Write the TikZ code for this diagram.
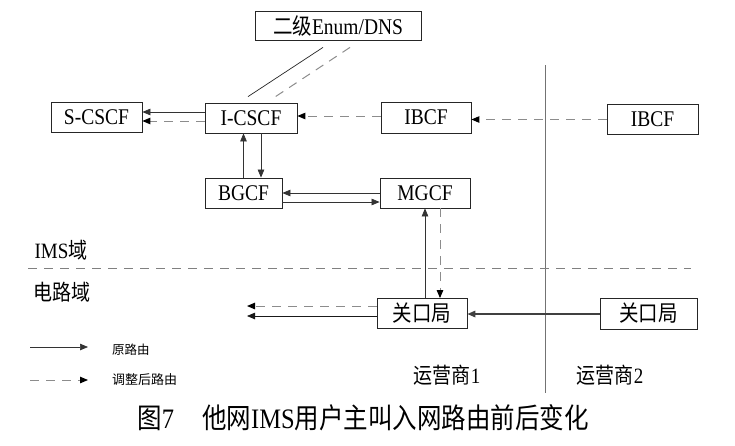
\documentclass[tikz,border=0pt]{standalone}
\usepackage{fontspec}
\usepackage{graphicx}
\setmainfont{Liberation Serif}
\newfontfamily\cjk{Noto Sans CJK SC}
\newcommand{\tall}[1]{\scalebox{1}[1.15]{#1}}
\usetikzlibrary{arrows.meta,calc}
\begin{document}
\begin{tikzpicture}[x=1pt,y=-1pt,
  box/.style={draw=black!85,line width=0.8pt,inner sep=0pt,font=\fontsize{19.5}{21}\selectfont},
  sol/.style={draw=black!80,line width=0.7pt,-{Triangle[length=8pt,width=6.5pt]}},
  das/.style={draw=black!45,line width=1pt,dash pattern=on 9pt off 7pt,-{Triangle[length=8pt,width=6.5pt,color=black]}},
  plain/.style={draw=black!85,line width=0.7pt},
  plaindash/.style={draw=black!45,line width=1pt,dash pattern=on 9pt off 7pt},
  lbl/.style={font=\fontsize{19}{21}\selectfont,inner sep=0pt},
  leg/.style={font=\fontsize{13}{15}\selectfont\cjk,inner sep=0pt,anchor=west}]
\useasboundingbox (0,0) rectangle (735,445);
\fill[white] (0,0) rectangle (735,445);

% boxes
\node[box,minimum width=166pt,minimum height=29pt] (enum) at (338,25.5) {\tall{{\cjk 二级}Enum/DNS}};
\node[box,minimum width=91pt,minimum height=30pt] (scscf) at (96.5,117) {\tall{S-CSCF}};
\node[box,minimum width=92pt,minimum height=30pt] (icscf) at (251,118) {\tall{I-CSCF}};
\node[box,minimum width=90pt,minimum height=31pt] (ibcfa) at (426,117.5) {\tall{IBCF}};
\node[box,minimum width=91pt,minimum height=30pt] (ibcfb) at (652.5,119) {\tall{IBCF}};
\node[box,minimum width=77pt,minimum height=30pt] (bgcf) at (243.5,193) {\tall{BGCF}};
\node[box,minimum width=90pt,minimum height=30pt] (mgcf) at (425,193) {\tall{MGCF}};
\node[box,minimum width=90pt,minimum height=30pt] (gwa) at (422,313.5) {\tall{\cjk 关口局}};
\node[box,minimum width=97pt,minimum height=31pt] (gwb) at (648.5,313.5) {\tall{\cjk 关口局}};

% domain separators
\coordinate (vtop) at (545,65);
\coordinate (vbot) at (545,393);
\draw[draw=black!55,line width=0.9pt] (vtop) -- (vbot);
\coordinate (hl) at (28,268);
\coordinate (hr) at (691,268);
\draw[plaindash,draw=black!50] (hl) -- (hr);

% Enum/DNS links
\draw[plain] ($(enum.south)+(-15,7)$) -- ($(icscf.north)+(-3,-6)$);
\draw[plaindash] ($(enum.south)+(12,7)$) -- ($(icscf.north)+(23,-5)$);

% I-CSCF -> S-CSCF
\draw[sol] ([yshift=6pt]icscf.west) -- ([yshift=6pt]icscf.west -| scscf.east);
\draw[das] ([yshift=-3pt]icscf.west) -- ([yshift=-3pt]icscf.west -| scscf.east);

% IBCF chain
\draw[das] ([yshift=1.5pt]ibcfa.west) -- ([yshift=1.5pt]ibcfa.west -| icscf.east);
\draw[das] ([yshift=-0.5pt]ibcfb.west) -- ([yshift=-0.5pt]ibcfb.west -| ibcfa.east);

% BGCF <-> I-CSCF
\draw[sol] (bgcf.north) -- (bgcf.north |- icscf.south);
\draw[sol] ([xshift=10pt]icscf.south) -- ([xshift=10pt]icscf.south |- bgcf.north);

% MGCF <-> BGCF
\draw[sol] (mgcf.west) -- (mgcf.west -| bgcf.east);
\draw[sol] ([yshift=-9pt]bgcf.east) -- ([yshift=-9pt]bgcf.east -| mgcf.west);

% gateway <-> MGCF
\draw[sol] ([xshift=3pt]gwa.north) -- ([xshift=3pt]gwa.north |- mgcf.south);
\draw[das] ([xshift=15pt]mgcf.south) -- ([xshift=15pt]mgcf.south |- gwa.north);

% gateway outputs
\coordinate (outd) at (247,306);
\coordinate (outs) at (247,316);
\draw[das] (gwa.west |- outd) -- (outd);
\draw[sol,draw=black!90,line width=0.8pt] (gwa.west |- outs) -- (outs);

% inter-operator gateway link
\draw[draw=black!75,line width=1.6pt,-{Triangle[length=8pt,width=6.5pt]}] (gwb.west |- 0,314) -- (gwa.east |- 0,314);

% labels
\node[lbl] (ims) at (61,250) {\tall{IMS{\cjk 域}}};
\node[lbl] (cs) at (62,292) {\tall{\cjk 电路域}};
\node[lbl] (op1) at (447,375) {\tall{{\cjk 运营商}1}};
\node[lbl] (op2) at (610,375) {\tall{{\cjk 运营商}2}};

% legend
\coordinate (l1a) at (30,347);
\coordinate (l1b) at (88,347);
\coordinate (l2a) at (30,380);
\coordinate (l2b) at (88,380);
\draw[sol] (l1a) -- (l1b);
\draw[das] (l2a) -- (l2b);
\node[leg,font=\fontsize{12.5}{14}\selectfont\cjk] (t1) at (112,350) {原路由};
\node[leg] (t2) at (112,380) {调整后路由};

% caption
\node[inner sep=0pt,font=\fontsize{24.5}{26}\selectfont] (cap) at (363,418) {\tall{{\cjk 图}7\hspace{28pt}{\cjk 他网}IMS{\cjk 用户主叫入网路由前后变化}}};
\end{tikzpicture}
\end{document}
